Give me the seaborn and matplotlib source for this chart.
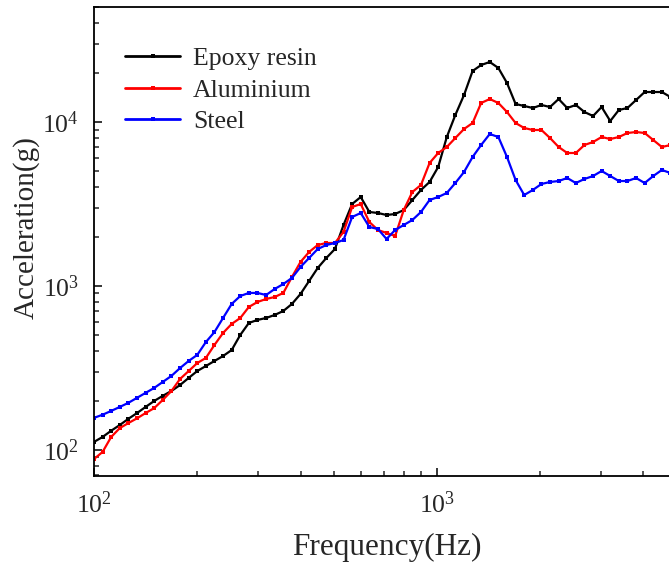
import matplotlib
matplotlib.use("Agg")
import matplotlib.pyplot as plt
import numpy as np
import pandas as pd
import seaborn as sns

# ---- data ----
frequency = [100, 105.9, 112.2, 118.9, 126.0, 133.5, 141.4, 149.8, 158.7, 168.2, 178.2, 188.8, 200,
             211.9, 224.5, 237.8, 252.0, 267.0, 282.8, 299.7, 317.5, 336.4, 356.4, 377.6, 400,
             423.8, 449.0, 475.7, 504.0, 534.0, 565.7, 599.3, 635.0, 672.7, 712.7, 755.1, 800,
             847.6, 898.0, 951.4, 1008, 1068, 1131, 1199, 1270, 1345, 1425, 1510, 1600,
             1695, 1796, 1903, 2016, 2136, 2263, 2397, 2540, 2691, 2851, 3020, 3200,
             3390, 3592, 3805, 4032, 4271, 4525, 4794]

epoxy_resin = [112, 120, 131, 142, 155, 168, 183, 199, 214, 229,
               249, 275, 303, 325, 349, 374, 407, 503, 595, 621,
               638, 666, 704, 777, 894, 1073, 1288, 1482, 1681, 2355,
               3162, 3488, 2827, 2787, 2710, 2748, 2906, 3345, 3850, 4307,
               5316, 8099, 11033, 14606, 20468, 22263, 23223, 21349, 17291, 12878,
               12521, 12174, 12699, 12346, 13810, 12174, 12699, 11508, 10879, 12346,
               10141, 11837, 12174, 13618, 15236, 15236, 15236, 14205]

aluminium = [88.1, 97.2, 120, 136, 146, 156, 168, 180, 202, 229,
             271, 303, 339, 364, 437, 517, 587, 638, 745, 799,
             833, 857, 907, 1134, 1401, 1612, 1778, 1829, 1829, 2135,
             3032, 3162, 2456, 2195, 2105, 2018, 2906, 3743, 4130, 5623,
             6472, 7040, 7986, 9064, 9861, 13060, 13810, 13060, 11508, 9861,
             9192, 8940, 8940, 7986, 7040, 6472, 6472, 7240, 7551, 8099,
             7876, 8099, 8569, 8690, 8569, 7766, 7040, 7240]

steel = [157, 164, 173, 183, 194, 208, 223, 239, 260, 283,
         316, 349, 380, 455, 524, 638, 777, 869, 907, 907,
         881, 959, 1028, 1119, 1306, 1482, 1681, 1778, 1829, 1908,
         2635, 2787, 2290, 2226, 1935, 2195, 2355, 2526, 2827, 3345,
         3488, 3692, 4246, 4955, 6117, 7240, 8449, 8099, 6117, 4429,
         3588, 3850, 4188, 4307, 4367, 4556, 4246, 4492, 4684, 5027,
         4684, 4367, 4367, 4556, 4246, 4684, 5098, 4887]

series_names = ["Epoxy resin", "Aluminium", "Steel"]
series_colors = ["#000000", "#ff0000", "#0000ff"]

df = pd.concat([
    pd.DataFrame({"Frequency": frequency, "Acceleration": vals, "Material": name})
    for name, vals in zip(series_names, [epoxy_resin, aluminium, steel])
], ignore_index=True)

# ---- style ----
sns.set_style("ticks")
plt.rcParams["font.family"] = ["Liberation Serif", "DejaVu Serif"]
plt.rcParams["mathtext.fontset"] = "custom"
plt.rcParams["mathtext.rm"] = "Liberation Serif"
plt.rcParams["mathtext.it"] = "Liberation Serif:italic"

W, H = 669, 563
fig = plt.figure(figsize=(W / 100, H / 100), dpi=100)
ax_left, ax_right, ax_top, ax_bottom = 94, 680, 7, 476
ax_w, ax_h = ax_right - ax_left, ax_bottom - ax_top
ax = fig.add_axes([ax_left / W, (H - ax_bottom) / H, ax_w / W, ax_h / H])

for name, color in zip(series_names, series_colors):
    sns.lineplot(data=df[df["Material"] == name], x="Frequency", y="Acceleration",
                 color=color, marker="s", markersize=2.6, markeredgewidth=0,
                 linewidth=1.6, sort=False, estimator=None, ax=ax, label=name)

ax.set_xscale("log")
ax.set_yscale("log")
ax.set_xlim(100, 5111)
ax.set_ylim(69.4, 50270)

ax.set_xlabel("Frequency(Hz)", fontsize=22.5, labelpad=11)
ax.set_ylabel("Acceleration(g)", fontsize=21)
ax.yaxis.set_label_coords((40 - ax_left) / ax_w, (ax_bottom - 228) / ax_h)

ax.tick_params(which="major", direction="in", length=6, width=1.3, labelsize=18.5, pad=11)
ax.tick_params(which="minor", direction="in", length=3.5, width=1.1)
ax.tick_params(top=False, right=False)
for side in ["left", "bottom", "top"]:
    ax.spines[side].set_linewidth(1.3)
    ax.spines[side].set_color("black")
ax.spines["right"].set_visible(False)

leg = ax.legend(loc="upper left", bbox_to_anchor=((125 - ax_left) / ax_w, 0.914),
                frameon=False, fontsize=18.5, handlelength=2.15, handletextpad=0.5,
                labelspacing=0.32, borderaxespad=0, borderpad=0)
for h in leg.get_lines():
    h.set_linewidth(2.0)

fig.savefig("out.png", dpi=100, facecolor="white")
